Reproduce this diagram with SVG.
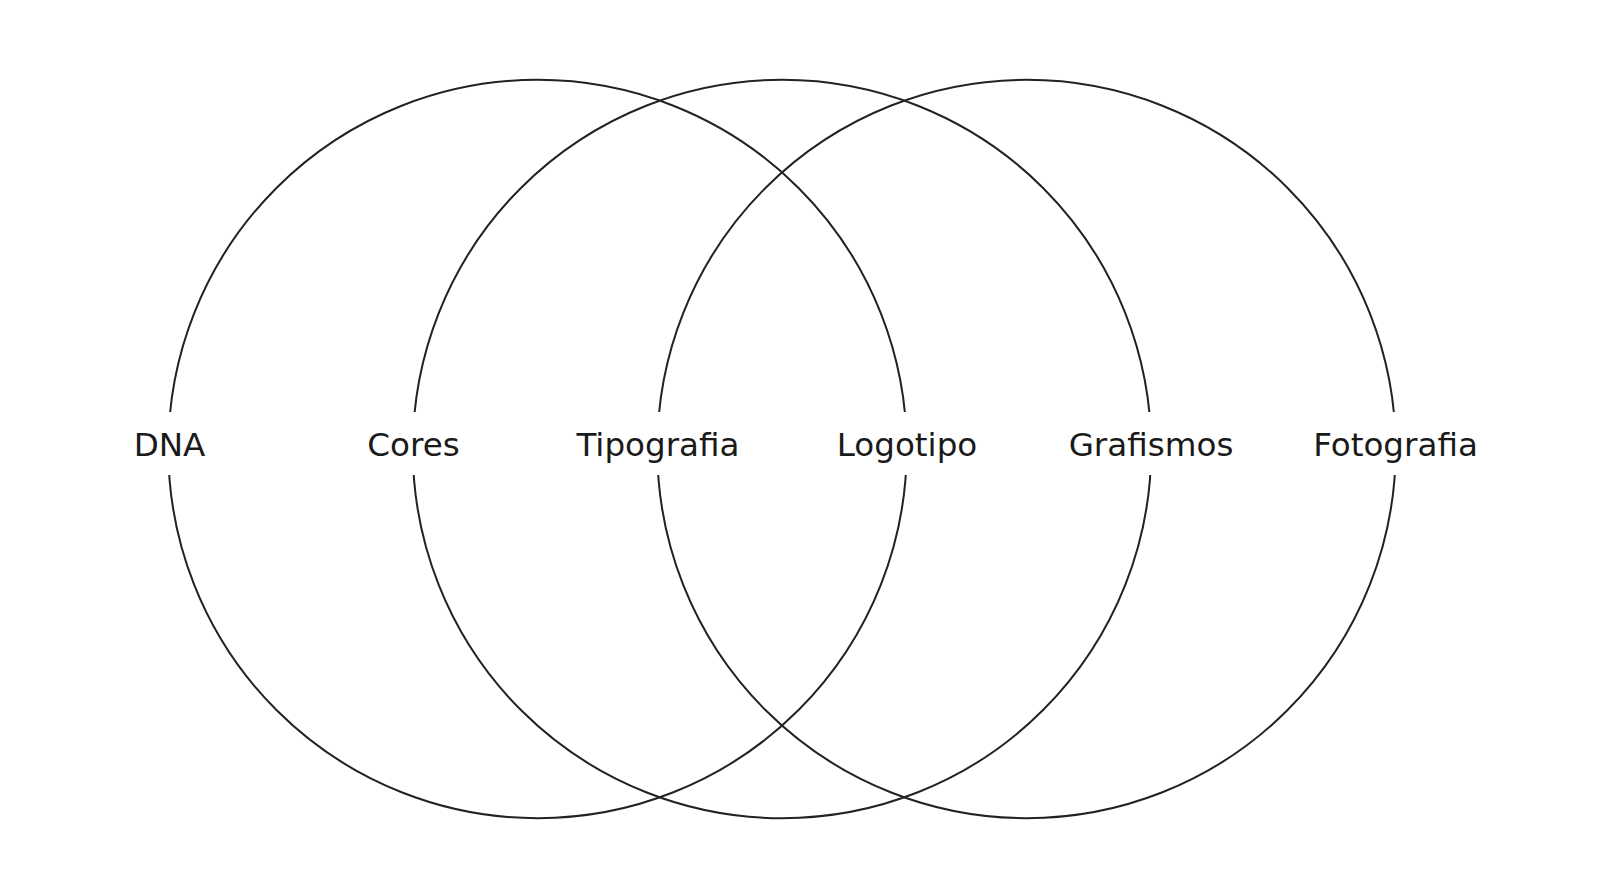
<svg xmlns="http://www.w3.org/2000/svg" width="1600" height="882" viewBox="0 0 1600 882">
<style>
.c{fill:none;stroke:#222;stroke-width:2}
.bg{fill:#fff}
.t{font-family:"DejaVu Sans",sans-serif;font-size:32.6px;fill:#1a1a1a;text-anchor:middle}
</style>
<rect width="1600" height="882" fill="#fff"/>
<g id="connectors"></g>
<g id="circle-1"><circle class="c" cx="537.5" cy="449" r="369.2"/></g>
<g id="circle-2"><circle class="c" cx="782" cy="449" r="369.2"/></g>
<g id="circle-3"><circle class="c" cx="1026.5" cy="449" r="369.2"/></g>
<g id="label-dna"><rect class="bg" x="128" y="412" width="84" height="63"/><text class="t" x="169.5" y="455.5">DNA</text></g>
<g id="label-cores"><rect class="bg" x="361" y="412" width="104" height="63"/><text class="t" x="413.5" y="455.5">Cores</text></g>
<g id="label-tipografia"><rect class="bg" x="575" y="412" width="166" height="63"/><text class="t" x="658" y="455.5">Tipografia</text></g>
<g id="label-logotipo"><rect class="bg" x="833" y="412" width="148" height="63"/><text class="t" x="907" y="455.5">Logotipo</text></g>
<g id="label-grafismos"><rect class="bg" x="1066" y="412" width="170" height="63"/><text class="t" x="1151" y="455.5">Grafismos</text></g>
<g id="label-fotografia"><rect class="bg" x="1310" y="412" width="170" height="63"/><text class="t" x="1395.5" y="455.5">Fotografia</text></g>
</svg>
